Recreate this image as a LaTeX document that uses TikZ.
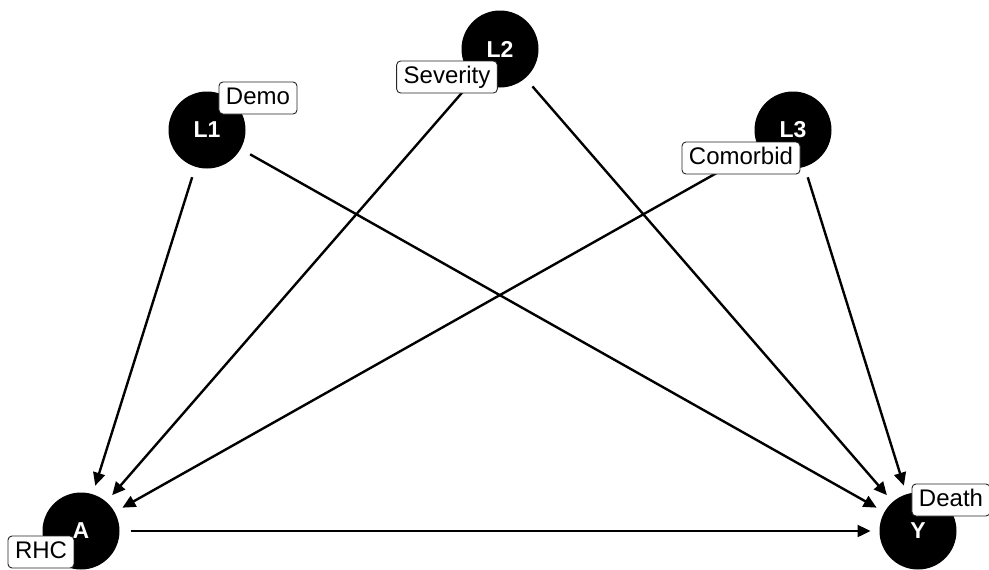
\documentclass[tikz,border=0pt]{standalone}
\usepackage{fontspec}
\setmainfont{Liberation Sans}
\usetikzlibrary{arrows.meta}
\tikzset{
  dagnode/.style={circle, fill=black, minimum size=77pt, inner sep=0pt, outer sep=0pt,
    text=white, font=\fontsize{23}{26}\selectfont\bfseries},
  daglabel/.style={draw=black!85, line width=0.9pt, rounded corners=4pt, fill=white,
    inner xsep=7pt, inner ysep=0pt, minimum height=32pt, text height=17pt, text depth=4.5pt,
    font=\fontsize{24}{27}\selectfont},
  dagedge/.style={line width=2.4pt, -{Triangle[length=13pt,width=12pt]},
    shorten <=11pt, shorten >=9pt}
}
\begin{document}
\begin{tikzpicture}[x=1pt,y=-1pt]
\useasboundingbox (0,0) rectangle (989,570);
\node[dagnode] (A) at (81,531) {A};
\node[dagnode] (Y) at (918,531) {Y};
\node[dagnode] (L1) at (207,130) {L1};
\node[dagnode] (L2) at (500,49) {L2};
\node[dagnode] (L3) at (793,130) {L3};
\draw[dagedge] (A) -- (Y);
\draw[dagedge] (L1) -- (A);
\draw[dagedge] (L1) -- (Y);
\draw[dagedge] (L2) -- (A);
\draw[dagedge] (L2) -- (Y);
\draw[dagedge] (L3) -- (A);
\draw[dagedge] (L3) -- (Y);
\node[daglabel] (lA) at (41,552) {RHC};
\node[daglabel] (lY) at (951,500) {Death};
\node[daglabel] (l1) at (258,98) {Demo};
\node[daglabel] (l2) at (447,77) {Severity};
\node[daglabel] (l3) at (741,158) {Comorbid};
\end{tikzpicture}
\end{document}
